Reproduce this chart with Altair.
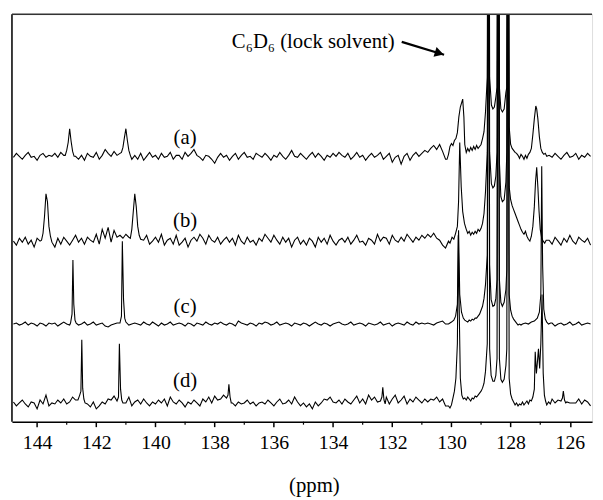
import altair as alt
import pandas as pd

# ---------------- data ----------------
# baseline noise on a regular grid (ppm = 144.8 - 0.1*i), values in px above each trace's baseline
GRID_START = 144.8
GRID_STEP = 0.1

noise_a = [
    -1, 3, 0, -3, 1, 4, -1, 0, -4, 1, 3, -1, 1, 0,
    3, -1, 4, 1, 5, 4, 2, 0, -3, 1, -4, 3, 0, -1,
    4, -3, 1, 7, 3, 0, 5, 1, 3, 8, 4, -1, -3, 1,
    -3, 3, -4, 0, 4, -1, 1, -3, 3, -1, 0, 4, -3, 1,
    1, -3, 4, 0, 3, 7, 1, -1, -4, 1, 0, -3, -7, -1,
    3, -1, 1, -4, 0, 3, -3, 1, 4, -1, 0, -3, 3, 1,
    -1, 3, 0, -4, 1, -1, 4, 0, -3, 1, 6, 0, -1, 3,
    0, -3, 1, 4, -1, 3, 0, -4, 1, -1, 3, 0, 4, 1,
    -1, 3, -3, 0, 4, -1, 1, -4, 0, 3, -1, 1, 4, -3,
    0, 3, -6, -1, 1, -8, 0, 3, -4, 1, 4, 0, 3, 6,
    4, 8, 11, 7, 12, 5, -3, 0, 0, 0, 0, 0, 0, 0,
    0, 0, 0, 0, 0, 0, 0, 0, 0, 0, 0, 0, 0, 0,
    0, 0, 0, 0, 0, 0, 0, 0, 0, 0, 0, 0, 0, 1,
    -1, 3, 0, -3, 1, 4, -1, 0, 3, -3, 1, -1, 3, 0,
]
noise_b = [
    0, -4, 3, -1, 4, -3, 1, -6, 3, 0, 4, 1, -3, -1,
    -6, 3, -3, 4, 0, -4, 1, 6, -1, 3, -3, 4, 1, -1,
    7, -3, 12, 3, 14, -1, 11, 4, 6, 3, 7, 4, 0, 0,
    3, -4, 1, 6, -3, 0, 4, -1, 7, -4, 1, 3, -3, 6,
    -4, -1, 3, -6, 1, 4, 0, 7, 3, -3, 6, 1, -1, 4,
    -3, 1, 4, -1, 3, -4, 6, 0, -3, 4, -1, 1, -4, 3,
    0, 7, 3, -1, 6, 1, -3, 4, -1, 3, -6, 1, 4, -3,
    1, -4, 3, 0, -6, 4, -1, 3, -3, 6, 0, -4, 1, 3,
    -1, 4, -3, 1, 6, -1, 0, -4, 3, 1, -3, 7, 0, 4,
    3, -3, 6, 1, -1, 4, 0, 7, 3, -1, 4, 1, 6, 3,
    7, 4, 8, 3, 1, -4, -7, 0, 0, 0, 0, 0, 0, 0,
    0, 0, 0, 0, 0, 0, 0, 0, 0, 0, 0, 0, 0, 0,
    0, 0, 0, 0, 0, 0, 0, 0, 0, 0, 0, 0, 0, 1,
    -3, 4, 0, -4, 3, -1, 6, 0, -3, 4, 1, -1, 3, -4,
]
noise_c = [
    0, 1, -1, 0, 2, -1, 1, 0, -2, 1, 0, -2, 1, 0,
    1, -2, 0, 2, 0, -1, 1, 0, -1, 0, 2, -1, 0, 2,
    -1, 0, 1, -2, -3, -1, 0, 1, 0, 0, 1, -1, 0, 1,
    0, -1, 2, 0, -1, 2, 0, -2, 1, -1, 0, 2, -1, 0,
    1, 0, -2, 1, 0, -2, 1, 0, -1, 2, 0, -1, 1, 0,
    2, 0, -1, 1, 0, -2, 3, 1, 0, -1, 1, 0, -2, 1,
    0, 2, 1, -1, 0, 2, -1, 0, 1, 0, -2, 1, 0, -1,
    1, 0, -2, 0, 2, 0, -1, 1, 0, -2, 0, 1, 2, 0,
    -1, 0, 2, -1, 0, 1, 0, -2, 1, 0, -1, 0, 2, -1,
    0, 1, -2, 0, 1, 0, -1, 2, 0, -1, 2, 0, 1, 0,
    1, 0, -1, 1, 2, 3, 0, 0, 0, 0, 0, 0, 0, 0,
    0, 0, 0, 0, 0, 0, 0, 0, 0, 0, 0, 0, 0, 0,
    0, 0, 0, 0, 0, 0, 0, 0, 0, 0, 0, 0, 0, 0,
    1, -2, 0, 1, -1, 0, 2, -1, 0, 2, -1, 0, 1, 0,
]
noise_d = [
    1, -3, 0, 3, -1, -4, 1, 0, -6, 3, -1, 8, -3, 0,
    -1, 3, 0, 4, -1, 1, 6, 3, 0, 0, 0, -1, -4, 1,
    -6, -3, 1, -1, 4, 3, 7, -1, 0, 0, 0, 6, -3, 1,
    3, -1, 4, 0, -3, 1, -1, 3, 0, 4, -3, 6, 1, -1,
    3, 0, -4, 1, -1, 3, 0, -3, 4, 1, 6, 0, 7, 3,
    4, 8, 0, 0, 0, -3, 1, -1, 0, 3, -1, 1, -3, 0,
    1, -1, 3, 0, -3, 1, 4, -1, 0, 3, -1, 6, 1, -3,
    0, -4, -1, -6, 1, -3, 0, 4, 3, 6, 1, 0, 3, -1,
    4, 1, -1, 3, 7, 0, 4, -1, 8, 3, 6, 1, 0, 0,
    6, -1, 4, 8, 0, 3, 7, -1, 4, 1, 6, 3, 0, 4,
    1, 4, 3, 6, 1, 4, -3, 0, 0, 0, 0, 0, 0, 0,
    0, 0, 0, 0, 0, 0, 0, 0, 0, 0, 0, 0, 0, 0,
    0, 0, 0, 0, 0, 0, 0, 0, 0, 0, 0, 0, 0, 0,
    4, 0, 3, -1, 6, 1, 0, 0, 0, 4, -1, 3, 1, -3,
]

# resonances: (ppm, height above baseline); 600 = runs off the top of the plot
peaks_a = [
    [(143.05, 1), (143.0, 6), (142.95, 14), (142.9, 28), (142.85, 15), (142.8, 5), (142.75, 0)],
    [(141.15, 4), (141.1, 9), (141.05, 19), (141.0, 28), (140.95, 16), (140.9, 6), (140.85, 1)],
    [(130.15, -3), (130.1, 2), (130.05, 10), (130.0, 13), (129.95, 11), (129.9, 16), (129.85, 18),
     (129.8, 24), (129.75, 40), (129.7, 50), (129.65, 55), (129.62, 58), (129.58, 40), (129.55, 12),
     (129.5, 4), (129.45, 8), (129.4, 5), (129.35, 9), (129.3, 6), (129.25, 10), (129.2, 7),
     (129.15, 11), (129.1, 8), (129.05, 10), (129.0, 12), (128.95, 18), (128.9, 25), (128.85, 45),
     (128.79, 80), (128.75, 600), (128.71, 80), (128.65, 52), (128.6, 48), (128.55, 50), (128.5, 60),
     (128.46, 70), (128.42, 600), (128.38, 70), (128.33, 48), (128.28, 45), (128.22, 48), (128.16, 65),
     (128.13, 70), (128.09, 600), (128.05, 30), (128.0, 12), (127.95, 8), (127.9, 6), (127.85, 4),
     (127.8, 3), (127.75, 1), (127.7, -2), (127.65, 2), (127.6, 0), (127.55, -3), (127.5, 1),
     (127.45, -2), (127.4, 2), (127.35, 4), (127.3, 8), (127.25, 22), (127.2, 38), (127.15, 51),
     (127.12, 48), (127.08, 38), (127.03, 20), (126.98, 8), (126.93, 4), (126.88, 2), (126.83, 3),
     (126.78, 0)],
]
peaks_b = [
    [(143.85, 1), (143.8, 8), (143.75, 25), (143.7, 48), (143.65, 40), (143.6, 15), (143.55, 5), (143.5, -1)],
    [(140.85, 3), (140.8, 12), (140.75, 30), (140.7, 48), (140.65, 35), (140.6, 15), (140.55, 6), (140.5, 2)],
    [(130.05, -2), (129.98, 4), (129.92, 2), (129.86, 8), (129.8, 15), (129.76, 40), (129.72, 100),
     (129.67, 55), (129.62, 30), (129.56, 18), (129.5, 12), (129.45, 8), (129.4, 10), (129.35, 6),
     (129.3, 9), (129.25, 7), (129.2, 10), (129.15, 8), (129.1, 12), (129.05, 10), (129.0, 13),
     (128.95, 18), (128.9, 28), (128.85, 50), (128.79, 90), (128.75, 600), (128.71, 90), (128.65, 58),
     (128.6, 54), (128.55, 56), (128.5, 66), (128.46, 90), (128.42, 600), (128.38, 80), (128.33, 45),
     (128.28, 40), (128.22, 42), (128.16, 60), (128.13, 90), (128.09, 600), (128.05, 55), (128.0, 42),
     (127.95, 36), (127.9, 32), (127.85, 28), (127.8, 24), (127.75, 20), (127.7, 16), (127.65, 12),
     (127.6, 9), (127.55, 7), (127.5, 10), (127.45, 5), (127.4, 2), (127.35, 0), (127.3, 5),
     (127.25, 15), (127.2, 35), (127.16, 60), (127.12, 75), (127.08, 55), (127.04, 30), (127.0, 12),
     (126.95, 3), (126.9, 0), (126.85, -2), (126.8, 1)],
]
peaks_c = [
    [(142.87, 1), (142.82, 10), (142.79, 65), (142.76, 20), (142.72, 4), (142.68, 1)],
    [(141.2, 1), (141.15, 8), (141.12, 84), (141.08, 25), (141.04, 6), (141.0, 2)],
    [(130.1, 0), (130.0, 2), (129.92, 4), (129.86, 8), (129.8, 20), (129.76, 95), (129.72, 30),
     (129.66, 12), (129.6, 6), (129.55, 4), (129.5, 3), (129.45, 2), (129.4, 4), (129.35, 3),
     (129.3, 5), (129.25, 4), (129.2, 6), (129.15, 6), (129.1, 8), (129.05, 10), (129.0, 14),
     (128.95, 18), (128.9, 26), (128.85, 40), (128.79, 70), (128.75, 600), (128.71, 60), (128.66, 25),
     (128.6, 18), (128.55, 19), (128.5, 26), (128.46, 45), (128.42, 600), (128.38, 45), (128.33, 22),
     (128.28, 18), (128.22, 22), (128.16, 35), (128.13, 55), (128.09, 600), (128.05, 30), (128.0, 14),
     (127.95, 8), (127.9, 5), (127.85, 3), (127.8, 1), (127.75, -1), (127.7, 0), (127.65, -1),
     (127.6, 0), (127.5, 1), (127.4, 0), (127.3, 2), (127.2, 3), (127.1, 6), (127.03, 12),
     (126.98, 30), (126.95, 160), (126.92, 60), (126.88, 15), (126.83, 5), (126.78, 2), (126.72, 0),
     (126.65, 1)],
]
peaks_d = [
    [(142.62, 3), (142.56, 8), (142.52, 12), (142.49, 64), (142.46, 15), (142.42, 4), (142.38, 0)],
    [(141.3, 2), (141.25, 6), (141.22, 60), (141.18, 14), (141.14, 3)],
    [(137.6, 5), (137.55, 8), (137.52, 19), (137.48, 6), (137.44, 0)],
    [(132.4, 2), (132.35, 6), (132.32, 16), (132.28, 3), (132.24, -1)],
    [(130.1, -3), (130.05, -5), (130.0, -2), (129.95, 5), (129.9, 12), (129.85, 25), (129.8, 60),
     (129.77, 170), (129.73, 80), (129.7, 25), (129.65, 8), (129.6, 4), (129.55, 5), (129.5, 3),
     (129.45, 6), (129.4, 4), (129.35, 2), (129.3, 5), (129.25, 4), (129.2, 7), (129.15, 6),
     (129.1, 8), (129.05, 10), (129.0, 12), (128.95, 15), (128.9, 20), (128.85, 32), (128.79, 60),
     (128.75, 600), (128.71, 55), (128.66, 28), (128.6, 22), (128.55, 22), (128.5, 28), (128.46, 45),
     (128.42, 600), (128.38, 45), (128.33, 24), (128.28, 21), (128.22, 24), (128.16, 38), (128.13, 55),
     (128.09, 600), (128.05, 25), (128.0, 9), (127.95, 4), (127.9, 1), (127.85, -2), (127.8, 0),
     (127.75, -3), (127.7, -1), (127.65, -2), (127.6, 1), (127.55, -2), (127.5, 0), (127.45, 2),
     (127.4, -1), (127.35, 3), (127.3, 2), (127.25, 6), (127.2, 14), (127.17, 52), (127.13, 30),
     (127.1, 40), (127.06, 55), (127.02, 35), (126.98, 60), (126.94, 110), (126.9, 30), (126.86, 8),
     (126.82, 2), (126.78, -2), (126.72, 1), (126.66, -1)],
    [(126.3, 2), (126.25, 5), (126.22, 12), (126.18, 3), (126.14, 0)],
]

traces = ["a", "b", "c", "d"]
offsets = [269, 183, 99, 19]          # vertical stacking of the spectra
noises = [noise_a, noise_b, noise_c, noise_d]
peaks = [peaks_a, peaks_b, peaks_c, peaks_d]

label_text = ["(a)", "(b)", "(c)", "(d)"]
label_ppm = [139.0, 139.0, 139.0, 139.0]
label_v = [288, 203, 116, 41]

ann_text = ["C\u2086D\u2086 (lock solvent)"]
ann_ppm = [137.42]
ann_v = [379]
arrow_ppm = [131.68, 130.25]
arrow_v = [385, 372]

major_ticks = [144, 142, 140, 138, 136, 134, 132, 130, 128, 126]
minor_ticks = [143, 141, 139, 137, 135, 133, 131, 129, 127]

# ---------------- build tables ----------------
rows = []
for name, off, noise, segs in zip(traces, offsets, noises, peaks):
    spans = [(min(p for p, _ in s), max(p for p, _ in s)) for s in segs]
    pts = []
    for i, n in enumerate(noise):
        p = round(GRID_START - GRID_STEP * i, 2)
        if any(lo - 1e-6 <= p <= hi + 1e-6 for lo, hi in spans):
            continue
        pts.append((p, n))
    for s in segs:
        pts.extend(s)
    pts.sort(key=lambda r: -r[0])
    for k, (p, h) in enumerate(pts):
        rows.append({"trace": name, "ppm": p, "v": off + h, "ord": k})
spec = pd.DataFrame(rows)

labels = pd.DataFrame({"t": label_text, "ppm": label_ppm, "v": label_v})
ann = pd.DataFrame({"t": ann_text, "ppm": ann_ppm, "v": ann_v})
arrow = pd.DataFrame({"ppm": [arrow_ppm[0]], "ppm2": [arrow_ppm[1]],
                      "v": [arrow_v[0]], "v2": [arrow_v[1]]})
head = pd.DataFrame({"ppm": [arrow_ppm[1] + 0.16], "v": [arrow_v[1] + 1.5]})
minor = pd.DataFrame({"ppm": minor_ticks})
one = pd.DataFrame({"k": [0]})

W, H = 588, 413
SERIF = "Liberation Serif"

xscale = alt.Scale(domain=[144.85, 125.25], nice=False, zero=False)
yscale = alt.Scale(domain=[0, 413], nice=False, zero=False)
xaxis = alt.Axis(values=major_ticks, format="d", grid=False, tickSize=5, tickWidth=1.5,
                 tickColor="black", domainColor="black", domainWidth=1.5,
                 labelFont=SERIF, labelFontSize=20, labelColor="black", labelPadding=6,
                 title="(ppm)", titleFont=SERIF, titleFontSize=21, titleFontWeight="normal",
                 titleColor="black", titleX=306, titleY=71, titleBaseline="alphabetic",
                 titleAlign="center")


def X(field="ppm"):
    return alt.X(f"{field}:Q", scale=xscale, axis=xaxis)


def Y(field="v"):
    return alt.Y(f"{field}:Q", scale=yscale, axis=None)


lines = alt.Chart(spec).mark_line(color="black", strokeWidth=1.1, clip=True).encode(
    x=X(), y=Y(), detail="trace:N", order="ord:Q")

lab = alt.Chart(labels).mark_text(font=SERIF, fontSize=21, color="black",
                                  align="center", baseline="middle").encode(
    x=X(), y=Y(), text="t:N")

title_txt = alt.Chart(ann).mark_text(font=SERIF, fontSize=21, color="black",
                                     align="left", baseline="alphabetic").encode(
    x=X(), y=Y(), text="t:N")

arrow_line = alt.Chart(arrow).mark_rule(color="black", strokeWidth=2.2).encode(
    x=X(), x2="ppm2:Q", y=Y(), y2="v2:Q")

arrow_head = alt.Chart(head).mark_point(shape="triangle-right", filled=True, color="black",
                                        size=110, angle=17, opacity=1).encode(x=X(), y=Y())

minor_ticks_layer = alt.Chart(minor).mark_rule(color="black", strokeWidth=1.2).encode(
    x=X(), y=alt.value(H), y2=alt.value(H + 3))

frame_left = alt.Chart(one).mark_rule(color="black", strokeWidth=1.5).encode(
    x=alt.value(0), y=alt.value(0), y2=alt.value(H))
frame_top = alt.Chart(one).mark_rule(color="#333333", strokeWidth=1.5).encode(
    x=alt.value(0), x2=alt.value(W), y=alt.value(0))

chart = alt.layer(lines, minor_ticks_layer, lab, title_txt, arrow_line, arrow_head,
                  frame_left, frame_top).properties(
    width=W, height=H,
    autosize=alt.AutoSizeParams(type="none"),
    padding={"left": 4, "top": 3, "right": 3, "bottom": 76},
).configure_view(stroke=None).configure(
    background="white", font=SERIF
).configure_axis(labelFont=SERIF, titleFont=SERIF)

chart.save("out.html", embed_options={"renderer": "svg", "actions": False})
